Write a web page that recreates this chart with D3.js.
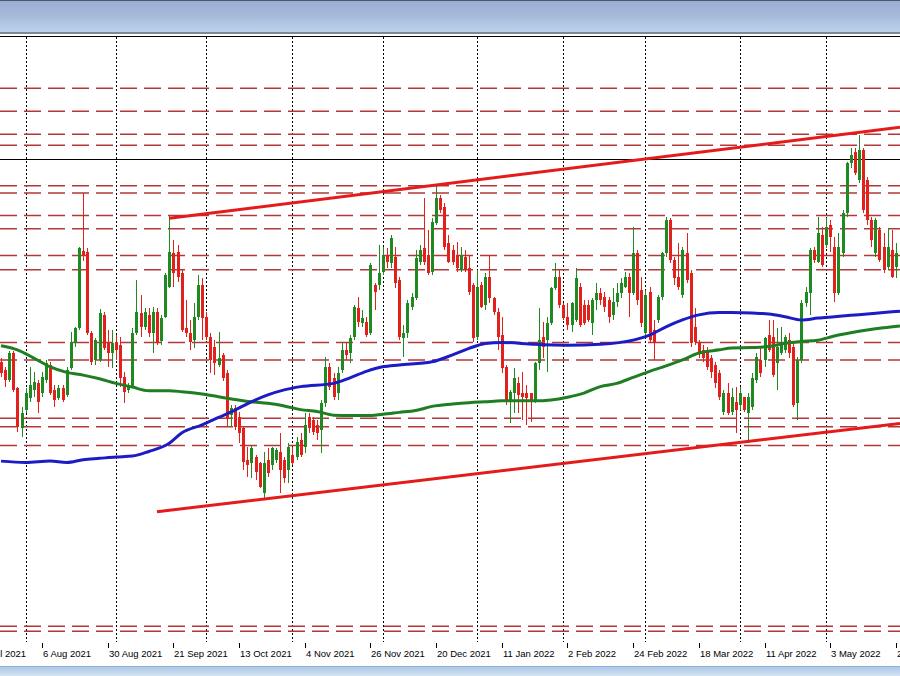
<!DOCTYPE html>
<html><head><meta charset="utf-8">
<script src="https://cdn.jsdelivr.net/npm/d3@7"></script>
<style>html,body{margin:0;padding:0;background:#fff;}svg{display:block;}</style>
</head><body>
<svg id="c" width="900" height="676"></svg>
<script>
// ---------------- DATA (USD/CAD daily, 23 Jul 2021 – 25 May 2022) ----------------
const firstBarDate = "2021-07-23";
const openP = [
1.2582,1.2564,1.2542,1.2601,1.2525,1.2438,1.2477,1.2503,1.2521,1.2536,
1.2514,1.2542,1.2575,1.2521,1.2503,1.2525,1.2510,1.2569,1.2623,1.2656,
1.2823,1.2821,1.2645,1.2586,1.2586,1.2684,1.2625,1.2601,1.2625,1.2618,
1.2549,1.2521,1.2527,1.2645,1.2688,1.2658,1.2684,1.2645,1.2690,1.2627,
1.2680,1.2745,1.2819,1.2821,1.2775,1.2656,1.2645,1.2629,1.2680,1.2749,
1.2680,1.2636,1.2614,1.2575,1.2597,1.2558,1.2466,1.2482,1.2462,1.2438,
1.2369,1.2362,1.2375,1.2362,1.2297,1.2369,1.2358,1.2369,1.2386,1.2369,
1.2347,1.2379,1.2375,1.2412,1.2397,1.2462,1.2455,1.2444,1.2434,1.2492,
1.2571,1.2547,1.2514,1.2564,1.2608,1.2601,1.2636,1.2699,1.2666,1.2669,
1.2645,1.2749,1.2749,1.2777,1.2814,1.2797,1.2810,1.2760,1.2634,1.2645,
1.2701,1.2721,1.2799,1.2830,1.2814,1.2777,1.2884,1.2938,1.2919,1.2840,
1.2825,1.2814,1.2782,1.2810,1.2786,1.2749,1.2636,1.2749,1.2706,1.2766,
1.2721,1.2690,1.2640,1.2571,1.2495,1.2514,1.2536,1.2514,1.2514,1.2514,
1.2495,1.2579,1.2636,1.2629,1.2666,1.2743,1.2766,1.2706,1.2680,1.2662,
1.2673,1.2745,1.2706,1.2706,1.2666,1.2716,1.2732,1.2723,1.2716,1.2684,
1.2712,1.2732,1.2745,1.2766,1.2732,1.2819,1.2738,1.2645,1.2734,1.2651,
1.2673,1.2723,1.2819,1.2890,1.2803,1.2766,1.2727,1.2819,1.2775,1.2658,
1.2623,1.2608,1.2608,1.2590,1.2575,1.2558,1.2473,1.2514,1.2473,1.2495,
1.2488,1.2506,1.2471,1.2484,1.2542,1.2586,1.2586,1.2640,1.2636,1.2579,
1.2601,1.2608,1.2629,1.2614,1.2492,1.2586,1.2710,1.2732,1.2825,1.2799,
1.2858,1.2836,1.2880,1.2832,1.2732,1.2819,1.2906,1.3014,1.3038,1.2977,
1.3043,1.2977,1.2890,1.2819,1.2869,1.2832,1.2788,1.2825,1.2788];
const highP = [
1.2590,1.2571,1.2606,1.2606,1.2527,1.2484,1.2525,1.2571,1.2560,1.2542,
1.2560,1.2586,1.2582,1.2532,1.2532,1.2532,1.2571,1.2647,1.2658,1.2832,
1.2949,1.2830,1.2649,1.2634,1.2697,1.2690,1.2651,1.2651,1.2640,1.2636,
1.2560,1.2536,1.2656,1.2760,1.2727,1.2699,1.2699,1.2701,1.2699,1.2684,
1.2775,1.2899,1.2847,1.2836,1.2782,1.2716,1.2673,1.2710,1.2771,1.2764,
1.2690,1.2645,1.2629,1.2647,1.2601,1.2564,1.2488,1.2488,1.2473,1.2440,
1.2397,1.2401,1.2379,1.2364,1.2386,1.2395,1.2397,1.2395,1.2427,1.2375,
1.2406,1.2397,1.2419,1.2427,1.2471,1.2471,1.2462,1.2455,1.2499,1.2593,
1.2579,1.2558,1.2571,1.2623,1.2623,1.2640,1.2706,1.2723,1.2695,1.2680,
1.2797,1.2753,1.2836,1.2832,1.2830,1.2858,1.2832,1.2766,1.2662,1.2716,
1.2732,1.2825,1.2836,1.2938,1.2869,1.2895,1.2964,1.2945,1.2927,1.2858,
1.2836,1.2843,1.2832,1.2825,1.2814,1.2753,1.2782,1.2756,1.2775,1.2814,
1.2723,1.2699,1.2680,1.2575,1.2521,1.2569,1.2549,1.2560,1.2532,1.2514,
1.2582,1.2699,1.2669,1.2680,1.2745,1.2797,1.2782,1.2710,1.2710,1.2712,
1.2786,1.2753,1.2716,1.2716,1.2721,1.2753,1.2743,1.2734,1.2723,1.2743,
1.2753,1.2764,1.2777,1.2775,1.2875,1.2825,1.2766,1.2738,1.2745,1.2673,
1.2727,1.2821,1.2897,1.2895,1.2810,1.2840,1.2832,1.2862,1.2782,1.2699,
1.2629,1.2618,1.2614,1.2597,1.2582,1.2564,1.2521,1.2536,1.2525,1.2527,
1.2527,1.2506,1.2514,1.2558,1.2601,1.2614,1.2636,1.2673,1.2673,1.2656,
1.2658,1.2640,1.2645,1.2623,1.2593,1.2716,1.2745,1.2830,1.2832,1.2897,
1.2875,1.2895,1.2890,1.2853,1.2862,1.2912,1.3016,1.3047,1.3047,1.3075,
1.3047,1.2984,1.2897,1.2895,1.2875,1.2862,1.2873,1.2869,1.2840];
const lowP = [
1.2549,1.2527,1.2538,1.2516,1.2429,1.2419,1.2471,1.2495,1.2506,1.2471,
1.2506,1.2536,1.2510,1.2484,1.2499,1.2495,1.2506,1.2564,1.2614,1.2651,
1.2801,1.2640,1.2575,1.2575,1.2582,1.2608,1.2571,1.2569,1.2586,1.2527,
1.2492,1.2514,1.2525,1.2640,1.2636,1.2651,1.2636,1.2601,1.2618,1.2618,
1.2677,1.2743,1.2745,1.2756,1.2647,1.2636,1.2608,1.2612,1.2673,1.2629,
1.2629,1.2558,1.2553,1.2571,1.2540,1.2440,1.2440,1.2434,1.2405,1.2347,
1.2332,1.2330,1.2325,1.2308,1.2286,1.2332,1.2347,1.2362,1.2297,1.2319,
1.2319,1.2358,1.2369,1.2375,1.2384,1.2427,1.2423,1.2412,1.2384,1.2484,
1.2521,1.2499,1.2499,1.2558,1.2586,1.2579,1.2629,1.2658,1.2658,1.2636,
1.2640,1.2695,1.2738,1.2771,1.2786,1.2786,1.2743,1.2629,1.2593,1.2634,
1.2695,1.2716,1.2793,1.2793,1.2771,1.2771,1.2880,1.2906,1.2825,1.2797,
1.2793,1.2777,1.2777,1.2777,1.2727,1.2625,1.2629,1.2699,1.2695,1.2710,
1.2684,1.2608,1.2558,1.2488,1.2449,1.2471,1.2471,1.2455,1.2444,1.2451,
1.2492,1.2564,1.2590,1.2560,1.2662,1.2738,1.2699,1.2673,1.2651,1.2647,
1.2669,1.2658,1.2662,1.2669,1.2640,1.2695,1.2706,1.2690,1.2666,1.2673,
1.2701,1.2721,1.2743,1.2680,1.2727,1.2706,1.2658,1.2634,1.2623,1.2586,
1.2666,1.2716,1.2810,1.2797,1.2749,1.2738,1.2721,1.2753,1.2614,1.2618,
1.2590,1.2582,1.2564,1.2547,1.2525,1.2499,1.2466,1.2466,1.2466,1.2427,
1.2477,1.2473,1.2405,1.2477,1.2536,1.2549,1.2571,1.2603,1.2549,1.2521,
1.2597,1.2601,1.2590,1.2484,1.2455,1.2579,1.2701,1.2684,1.2797,1.2797,
1.2788,1.2830,1.2821,1.2712,1.2727,1.2810,1.2897,1.3003,1.2988,1.2971,
1.2906,1.2880,1.2832,1.2810,1.2799,1.2775,1.2782,1.2764,1.2764];
const closeP = [
1.2558,1.2542,1.2601,1.2521,1.2440,1.2471,1.2514,1.2532,1.2538,1.2495,
1.2549,1.2579,1.2514,1.2499,1.2525,1.2499,1.2564,1.2625,1.2656,1.2830,
1.2812,1.2645,1.2582,1.2629,1.2688,1.2612,1.2601,1.2623,1.2608,1.2547,
1.2516,1.2527,1.2645,1.2690,1.2658,1.2690,1.2645,1.2690,1.2623,1.2677,
1.2771,1.2821,1.2775,1.2766,1.2651,1.2645,1.2625,1.2680,1.2749,1.2677,
1.2636,1.2586,1.2579,1.2590,1.2547,1.2460,1.2482,1.2440,1.2427,1.2364,
1.2358,1.2395,1.2343,1.2310,1.2362,1.2340,1.2395,1.2390,1.2347,1.2330,
1.2397,1.2362,1.2408,1.2379,1.2445,1.2438,1.2429,1.2427,1.2492,1.2571,
1.2527,1.2506,1.2558,1.2608,1.2597,1.2634,1.2701,1.2669,1.2677,1.2640,
1.2793,1.2734,1.2775,1.2814,1.2799,1.2851,1.2753,1.2636,1.2645,1.2710,
1.2723,1.2808,1.2825,1.2799,1.2775,1.2886,1.2938,1.2912,1.2832,1.2799,
1.2799,1.2786,1.2814,1.2782,1.2734,1.2634,1.2745,1.2701,1.2766,1.2721,
1.2690,1.2636,1.2569,1.2495,1.2516,1.2547,1.2510,1.2506,1.2503,1.2495,
1.2579,1.2629,1.2614,1.2666,1.2743,1.2766,1.2706,1.2677,1.2662,1.2710,
1.2764,1.2662,1.2666,1.2673,1.2716,1.2732,1.2716,1.2701,1.2680,1.2712,
1.2732,1.2753,1.2766,1.2732,1.2819,1.2716,1.2666,1.2727,1.2629,1.2625,
1.2723,1.2819,1.2890,1.2803,1.2764,1.2745,1.2825,1.2760,1.2623,1.2625,
1.2603,1.2590,1.2571,1.2560,1.2536,1.2506,1.2514,1.2471,1.2506,1.2477,
1.2514,1.2477,1.2506,1.2547,1.2593,1.2558,1.2634,1.2608,1.2553,1.2614,
1.2625,1.2636,1.2601,1.2488,1.2586,1.2710,1.2734,1.2825,1.2803,1.2862,
1.2793,1.2875,1.2853,1.2732,1.2832,1.2906,1.3014,1.3032,1.2992,1.3043,
1.2912,1.2890,1.2847,1.2890,1.2803,1.2782,1.2832,1.2766,1.2819];

// moving averages, read at sample bars
const blueMABars = [0,6,12,16,20,24,28,32,36,41,44,49,53,57,61,65,69,73,81,85,89,93,97,105,110,114,118,122,130,138,146,154,158,162,166,170,175,178,183,187,191,195,199,203,207,211,215,219];
const blueMA = [1.2366,1.2363,1.2366,1.2363,1.2369,1.2372,1.2375,1.2377,1.2387,1.2405,1.2427,1.2445,1.2461,1.2477,1.2495,1.2510,1.2521,1.2528,1.2535,1.2547,1.2561,1.2571,1.2575,1.2582,1.2597,1.2611,1.2622,1.2624,1.2620,1.2618,1.2620,1.2629,1.2640,1.2658,1.2673,1.2684,1.2689,1.2689,1.2688,1.2686,1.2680,1.2673,1.2677,1.2680,1.2683,1.2686,1.2689,1.2692];
const greenMABars = [0,4,8,12,16,20,24,28,32,36,41,44,49,53,57,61,65,69,73,77,81,85,89,93,97,101,105,110,114,118,122,130,134,138,142,146,150,154,158,162,166,170,175,178,183,187,191,195,199,203,207,211,215,219];
const greenMA = [1.2617,1.2608,1.2590,1.2571,1.2559,1.2553,1.2545,1.2535,1.2527,1.2519,1.2519,1.2517,1.2512,1.2506,1.2500,1.2495,1.2492,1.2486,1.2478,1.2474,1.2466,1.2465,1.2465,1.2468,1.2472,1.2476,1.2485,1.2490,1.2493,1.2495,1.2497,1.2497,1.2499,1.2505,1.2514,1.2528,1.2535,1.2548,1.2561,1.2573,1.2586,1.2601,1.2608,1.2612,1.2613,1.2615,1.2622,1.2626,1.2629,1.2638,1.2645,1.2651,1.2656,1.2660];

// horizontal levels (dashed) and solid marker line
const levels = [1.3177,1.3127,1.3077,1.3053,1.2965,1.2949,1.2900,1.2871,1.2813,1.2782,1.2624,1.2586,1.2459,1.2441,1.2400,1.2007,1.1996];
const markLevels = [1.3022];
// channel trend lines: [bar index, price]
const upperTrend = [[41,1.2894],[219,1.3092]];
const lowerTrend = [[38,1.2256],[219,1.2448]];

const tickLabels = ["15 Jul 2021","6 Aug 2021","30 Aug 2021","21 Sep 2021","13 Oct 2021","4 Nov 2021","26 Nov 2021","20 Dec 2021","11 Jan 2022","2 Feb 2022","24 Feb 2022","18 Mar 2022","11 Apr 2022","3 May 2022","25 May 2022"];

// ---------------- LAYOUT ----------------
const W = 900, H = 676;
const PT = 37, PB = 642;
const X0 = 1.0, STEP = 4.105;
const svg = d3.select("#c");

const parse = d3.timeParse("%Y-%m-%d");
const fmt = d3.timeFormat("%-d %b %Y");
const days = d3.timeDay.range(new Date(2021,6,12), new Date(2022,4,31)).filter(d => d.getDay() !== 0 && d.getDay() !== 6);
const offset = days.findIndex(d => +d === +parse(firstBarDate));

const x = d3.scaleLinear().domain([0, openP.length - 1]).range([X0, X0 + (openP.length - 1) * STEP]);
const y = d3.scaleLinear().domain([1.19727, 1.32882]).range([PB, PT]);

// gradients
const defs = svg.append("defs");
const g1 = defs.append("linearGradient").attr("id","tb").attr("x1",0).attr("y1",0).attr("x2",0).attr("y2",1);
g1.append("stop").attr("offset","0%").attr("stop-color","#9aadd5");
g1.append("stop").attr("offset","50%").attr("stop-color","#a5bbd9");
g1.append("stop").attr("offset","100%").attr("stop-color","#bcd3ec");
const g2 = defs.append("linearGradient").attr("id","bb").attr("x1",0).attr("y1",0).attr("x2",0).attr("y2",1);
g2.append("stop").attr("offset","0%").attr("stop-color","#a9c5e6");
g2.append("stop").attr("offset","100%").attr("stop-color","#d2e3f4");
defs.append("clipPath").attr("id","clip").append("rect").attr("x",0).attr("y",PT).attr("width",W).attr("height",PB-PT);

svg.append("rect").attr("width",W).attr("height",H).attr("fill","#fff");
// title bar
svg.append("rect").attr("x",0).attr("y",0).attr("width",W).attr("height",32).attr("fill","url(#tb)");
svg.append("rect").attr("x",0).attr("y",0).attr("width",W).attr("height",1).attr("fill","#4d5a6e");
svg.append("rect").attr("x",0).attr("y",32).attr("width",W).attr("height",2).attr("fill","#7d8899");
svg.append("rect").attr("x",0).attr("y",36).attr("width",W).attr("height",1).attr("fill","#000");
// bottom strip
svg.append("rect").attr("x",0).attr("y",666).attr("width",W).attr("height",10).attr("fill","url(#bb)");
svg.append("rect").attr("x",0).attr("y",666).attr("width",W).attr("height",1).attr("fill","#8fb0d8");

const plot = svg.append("g").attr("clip-path","url(#clip)");

// month grid (dotted)
const monthStarts = [];
for (let d = 1; d < days.length; d++) {
  if (days[d].getMonth() !== days[d-1].getMonth()) {
    const b = d - offset;
    if (b >= 0 && b < openP.length) monthStarts.push(b);
  }
}
plot.selectAll("line.grid").data(monthStarts).enter().append("line")
  .attr("x1", b => Math.round(x(b)) + 0.5).attr("x2", b => Math.round(x(b)) + 0.5)
  .attr("y1", PT).attr("y2", PB)
  .attr("stroke","#000").attr("stroke-width",1).attr("stroke-dasharray","2,2");

// dashed levels
plot.selectAll("line.lvl").data(levels).enter().append("line")
  .attr("x1",0).attr("x2",W).attr("y1", d => y(d)).attr("y2", d => y(d))
  .attr("stroke","#b3373a").attr("stroke-width",1.5).attr("stroke-dasharray","17,7");
plot.selectAll("line.mk").data(markLevels).enter().append("line")
  .attr("x1",0).attr("x2",W).attr("y1", d => Math.round(y(d)) + 0.5).attr("y2", d => Math.round(y(d)) + 0.5)
  .attr("stroke","#000").attr("stroke-width",1);

// candles
const bars = openP.map((o,i) => ({i, o, h: highP[i], l: lowP[i], c: closeP[i]}));
const bull = "#1f8a22", bear = "#e3211c";
const cg = plot.append("g").attr("shape-rendering","crispEdges");
cg.selectAll("line.wick").data(bars).enter().append("line")
  .attr("x1", d => Math.round(x(d.i)) + 0.5).attr("x2", d => Math.round(x(d.i)) + 0.5)
  .attr("y1", d => y(Math.max(d.h, d.o, d.c))).attr("y2", d => y(Math.min(d.l, d.o, d.c)))
  .attr("stroke", d => d.c >= d.o ? bull : bear).attr("stroke-width",1);
cg.selectAll("rect.body").data(bars).enter().append("rect")
  .attr("x", d => Math.round(x(d.i)) - 1).attr("width", 3)
  .attr("y", d => Math.round(y(Math.max(d.o, d.c))))
  .attr("height", d => Math.max(1, Math.round(y(Math.min(d.o, d.c))) - Math.round(y(Math.max(d.o, d.c)))))
  .attr("fill", d => d.c >= d.o ? bull : bear);

// moving averages
const line = d3.line().x(d => x(d[0])).y(d => y(d[1])).curve(d3.curveMonotoneX);
plot.append("path").datum(greenMABars.map((b,k) => [b, greenMA[k]]))
  .attr("d", line).attr("fill","none").attr("stroke","#1f7d22").attr("stroke-width",3);
plot.append("path").datum(blueMABars.map((b,k) => [b, blueMA[k]]))
  .attr("d", line).attr("fill","none").attr("stroke","#1c1cc4").attr("stroke-width",3);

// trend lines
const tl = d3.line().x(d => x(d[0])).y(d => y(d[1]));
[upperTrend, lowerTrend].forEach(t => {
  plot.append("path").datum(t).attr("d", tl).attr("fill","none")
    .attr("stroke","#e51b1b").attr("stroke-width",3);
});

// time axis
const ticks = tickLabels.map(lbl => {
  const d = days.findIndex(dd => fmt(dd) === lbl);
  return {lbl, b: d - offset};
}).filter(t => t.b > -100);
const ax = svg.append("g");
ax.selectAll("line.tk").data(ticks).enter().append("line")
  .attr("x1", t => Math.round(x(t.b)) + 0.5).attr("x2", t => Math.round(x(t.b)) + 0.5)
  .attr("y1", 643).attr("y2", 648).attr("stroke","#000").attr("stroke-width",1);
ax.selectAll("text.tl").data(ticks).enter().append("text")
  .attr("x", t => Math.round(x(t.b)) + 1).attr("y", 657)
  .attr("font-family","Liberation Sans, Arial, sans-serif").attr("font-size","9.5px")
  .attr("fill","#000").text(t => t.lbl);
</script>
</body></html>
